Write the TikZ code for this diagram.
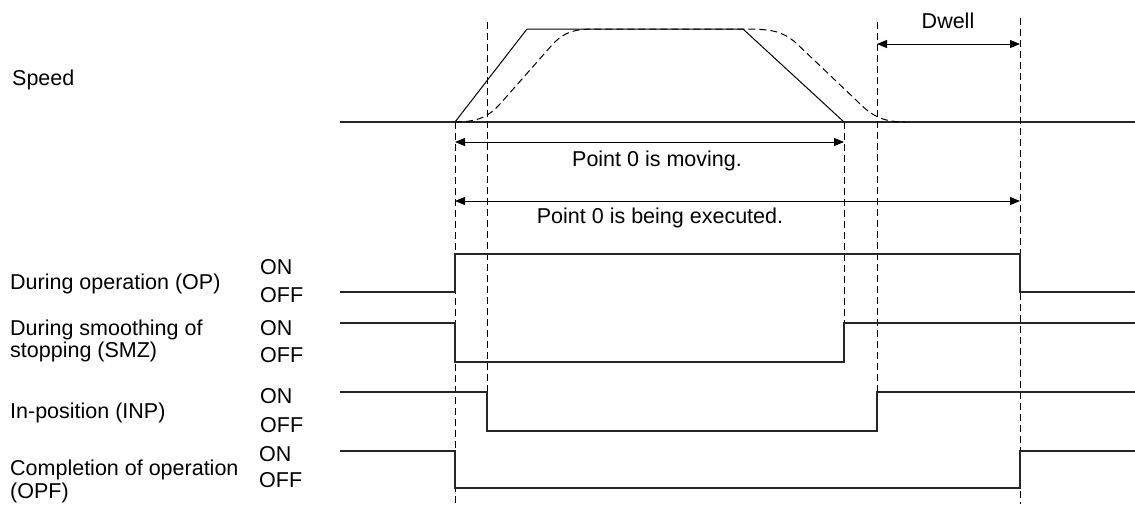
\documentclass[tikz,border=0pt]{standalone}
\usepackage{fontspec}
\setmainfont{Liberation Sans}
\usetikzlibrary{arrows.meta}
\begin{document}
\begin{tikzpicture}[x=1pt,y=-1pt,
  txt/.style={inner sep=0pt,font=\fontsize{21.5}{24}\selectfont},
  lbl/.style={txt,anchor=base west},
  ctr/.style={txt,anchor=base},
  sig/.style={line width=1.1pt,black!85},
  guide/.style={line width=0.8pt,dash pattern=on 7pt off 4pt},
  dim/.style={line width=0.9pt,{Triangle[length=10pt,width=8pt]}-{Triangle[length=10pt,width=8pt]}},
  prof/.style={line width=1pt},
  sprof/.style={line width=1pt,dash pattern=on 7pt off 4pt}]
\useasboundingbox (0,0) rectangle (1135,504);
% coordinates
\coordinate (b0) at (340,122);
\coordinate (b1) at (1135,122);
\coordinate (t0) at (455,122);
\coordinate (t1) at (527,29);
\coordinate (t2) at (743,29);
\coordinate (t3) at (844,122);
% labels
\node[lbl] (speed) at (12,85) {Speed};
\node[lbl] (op) at (10,289) {During operation (OP)};
\node[lbl] (smz1) at (10,335) {During smoothing of};
\node[lbl] (smz2) at (10,357) {stopping (SMZ)};
\node[lbl] (inp) at (10,418) {In-position (INP)};
\node[lbl] (opf1) at (10,475) {Completion of operation};
\node[lbl] (opf2) at (10,498) {(OPF)};
\node[lbl] (on1) at (260,274) {ON};
\node[lbl] (off1) at (260,302) {OFF};
\node[lbl] (on2) at (260,335) {ON};
\node[lbl] (off2) at (260,362) {OFF};
\node[lbl] (on3) at (260,403) {ON};
\node[lbl] (off3) at (260,432) {OFF};
\node[lbl] (on4) at (259,461) {ON};
\node[lbl] (off4) at (259,487) {OFF};
\node[ctr] (moving) at (657,166) {Point 0 is moving.};
\node[ctr] (exec) at (660,223) {Point 0 is being executed.};
\node[ctr] (dwell) at (948,28) {Dwell};
% speed axis
\draw[sig] (b0) -- (b1);
% solid profile
\draw[prof] (t0) -- (t1) -- (t2) -- (t3);
% smoothed profile
\draw[sprof] (t0) .. controls (480,122) and (490,115) .. (500,104)
  -- (552,45) .. controls (565,31) and (575,29) .. (597,29) -- (t2)
  .. controls (775,29) and (782,32) .. (795,42)
  -- (856,100) .. controls (870,114) and (880,122) .. (905,122);
% guide lines
\coordinate (g1a) at (455,122); \coordinate (g1b) at (455,504);
\coordinate (g2a) at (487,22);  \coordinate (g2b) at (487,393);
\coordinate (g3a) at (844,122); \coordinate (g3b) at (844,323);
\coordinate (g4a) at (877,22);  \coordinate (g4b) at (877,392);
\coordinate (g5a) at (1020,18); \coordinate (g5b) at (1020,504);
\draw[guide] (g1a) -- (g1b);
\draw[guide] (g2a) -- (g2b);
\draw[guide] (g3a) -- (g3b);
\draw[guide] (g4a) -- (g4b);
\draw[guide] (g5a) -- (g5b);
% dimension arrows
\coordinate (m0) at (455,142); \coordinate (m1) at (844,142);
\coordinate (e0) at (455,201); \coordinate (e1) at (1020,201);
\coordinate (d0) at (877,44);  \coordinate (d1) at (1020,44);
\draw[dim] (m0) -- (m1);
\draw[dim] (e0) -- (e1);
\draw[dim] (d0) -- (d1);
% signals
\coordinate (op0) at (340,292);
\coordinate (op1) at (1135,292);
\draw[sig] (op0) -- (455,292) -- (455,254) -- (1020,254) -- (1020,292) -- (op1);
\coordinate (sm0) at (340,323);
\coordinate (sm1) at (1135,323);
\draw[sig] (sm0) -- (455,323) -- (455,362) -- (844,362) -- (844,323) -- (sm1);
\coordinate (in0) at (340,392);
\coordinate (in1) at (1135,392);
\draw[sig] (in0) -- (487,392) -- (487,431) -- (877,431) -- (877,392) -- (in1);
\coordinate (pf0) at (340,451);
\coordinate (pf1) at (1135,451);
\draw[sig] (pf0) -- (455,451) -- (455,488) -- (1020,488) -- (1020,451) -- (pf1);
\end{tikzpicture}
\end{document}
